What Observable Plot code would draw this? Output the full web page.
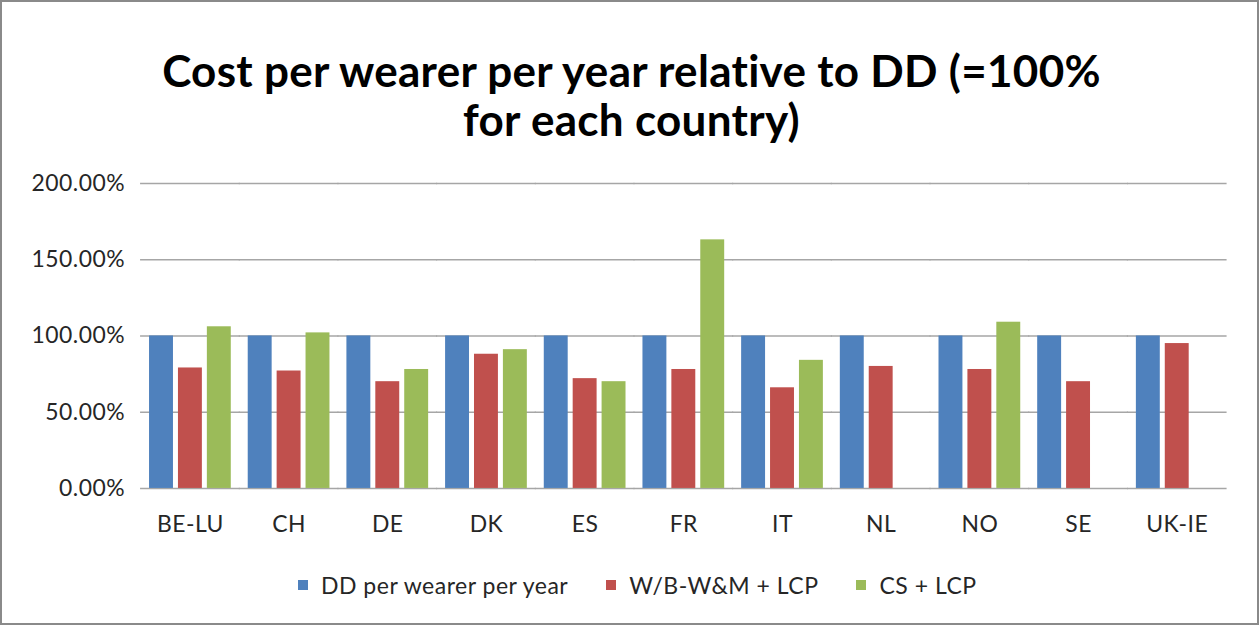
<!DOCTYPE html>
<html>
<head>
<meta charset="utf-8">
<script src="https://cdn.jsdelivr.net/npm/d3@7"></script>
<script src="https://cdn.jsdelivr.net/npm/@observablehq/plot@0.6"></script>
<style>
  html, body { margin: 0; padding: 0; background: #fff; }
  #frame { position: relative; width: 1259px; height: 625px; box-sizing: border-box; border: 2px solid #8a8a8a; background: #fff; overflow: hidden; font-family: Lato, "Open Sans", sans-serif; }
  #title { position: absolute; left: 0; top: 44px; width: 1259px; text-align: center; font-weight: 700; font-size: 44px; line-height: 49px; color: #000; letter-spacing: 0.3px; }
  #chart { position: absolute; left: -2px; top: 158px; }
  #legend { position: absolute; left: 296px; top: 569px; display: flex; align-items: center; font-size: 23px; letter-spacing: 0.5px; color: #262626; }
  #legend .sw { width: 10px; height: 10px; margin-right: 13px; }
  #legend .item { display: flex; align-items: center; margin-right: 38px; }
</style>
</head>
<body>
<div id="frame">
  <div id="title">Cost per wearer per year relative to DD (=100%<br>for each country)</div>
  <div id="chart"></div>
  <div id="legend"></div>
</div>
<script>
const countries = ["BE-LU", "CH", "DE", "DK", "ES", "FR", "IT", "NL", "NO", "SE", "UK-IE"];
const seriesNames = ["DD per wearer per year", "W/B-W&M + LCP", "CS + LCP"];
const seriesColors = ["#4f81bd", "#c0504d", "#9bbb59"];
const ddValues   = [1.00, 1.00, 1.00, 1.00, 1.00, 1.00, 1.00, 1.00, 1.00, 1.00, 1.00];
const wbwmValues = [0.79, 0.77, 0.70, 0.88, 0.72, 0.78, 0.66, 0.80, 0.78, 0.70, 0.95];
const csValues   = [1.06, 1.02, 0.78, 0.91, 0.70, 1.63, 0.84, null, 1.09, null, null];
const yTicks = [0, 0.5, 1, 1.5, 2];

const allSeries = [ddValues, wbwmValues, csValues];
const rows = [];
countries.forEach((c, i) => {
  allSeries.forEach((vals, s) => {
    if (vals[i] != null) rows.push({country: c, series: seriesNames[s], value: vals[i]});
  });
});

const W = 1261, ML = 139, MR = 29;
const padInner = 0.125, padOuter = 0.0625;
const step = (W - ML - MR) / (countries.length - padInner + 2 * padOuter);
const gapHalf = padInner * step / 2 + 0.3;

const chart = Plot.plot({
  width: W,
  height: 400,
  marginLeft: ML,
  marginRight: MR,
  marginTop: 23,
  marginBottom: 71,
  style: {fontFamily: "Lato, 'Open Sans', sans-serif", fontSize: "23px", color: "#262626", background: "transparent", letterSpacing: "0.5px"},
  fx: {domain: countries, paddingInner: padInner, paddingOuter: padOuter, label: null},
  x: {domain: seriesNames, padding: 0, axis: null},
  y: {domain: [0, 2], label: null},
  color: {domain: seriesNames, range: seriesColors},
  marks: [
    Plot.ruleY(yTicks, {stroke: "#a6a6a6", strokeWidth: 1.5, insetLeft: -gapHalf, insetRight: -gapHalf}),
    Plot.axisY(yTicks, {tickFormat: d3.format(".2%"), tickSize: 0, tickPadding: 22, label: null, fontSize: 23}),
    Plot.axisFx({anchor: "bottom", tickSize: 0, tickPadding: 27, label: null, fontSize: 23}),
    Plot.barY(rows, {fx: "country", x: "series", y: "value", fill: "series", insetLeft: 2.5, insetRight: 2.5})
  ]
});
document.getElementById("chart").appendChild(chart);

const legend = document.getElementById("legend");
seriesNames.forEach((n, i) => {
  const item = document.createElement("div");
  item.className = "item";
  const sw = document.createElement("div");
  sw.className = "sw";
  sw.style.background = seriesColors[i];
  const t = document.createElement("span");
  t.textContent = n;
  item.appendChild(sw);
  item.appendChild(t);
  legend.appendChild(item);
});
</script>
</body>
</html>
